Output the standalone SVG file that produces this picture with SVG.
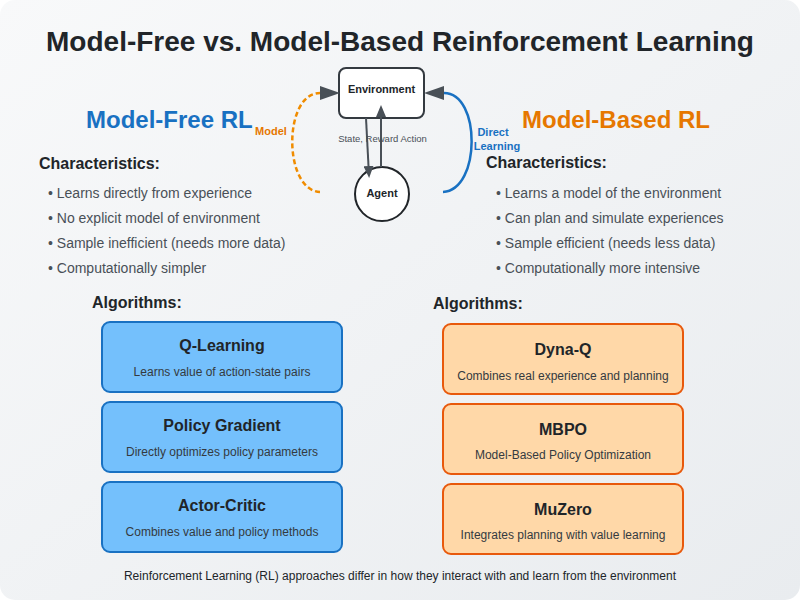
<svg xmlns="http://www.w3.org/2000/svg" width="800" height="600" viewBox="0 0 800 600">
<defs>
<linearGradient id="bg" x1="0" y1="0" x2="1" y2="1">
<stop offset="0" stop-color="#f8f9fa"/>
<stop offset="1" stop-color="#e9ecef"/>
</linearGradient>
<marker id="ahBig" markerUnits="userSpaceOnUse" markerWidth="20" markerHeight="14" refX="0" refY="7" orient="auto">
<polygon points="0,0 20,7 0,14" fill="#495057"/>
</marker>
<marker id="ahSmall" markerUnits="userSpaceOnUse" markerWidth="12" markerHeight="10" refX="0" refY="5" orient="auto">
<polygon points="0,0 12,5 0,10" fill="#495057"/>
</marker>
</defs>
<style>
text{font-family:"Liberation Sans",Arial,sans-serif}
.title{font-size:28px;font-weight:bold;fill:#212529}
.sec{font-size:24px;font-weight:bold}
.h{font-size:16px;font-weight:bold;fill:#212529}
.b{font-size:14px;fill:#495057}
.bt{font-size:16px;font-weight:bold;fill:#212529;text-anchor:middle}
.bs{font-size:12px;fill:#343a40;text-anchor:middle}
.blue{fill:#74c0fc;stroke:#1971c2;stroke-width:2}
.orange{fill:#ffd8a8;stroke:#e8590c;stroke-width:2}
.lbl{font-size:11px;font-weight:bold;text-anchor:middle}
.nt{font-size:11px;font-weight:bold;fill:#212529;text-anchor:middle}
.conn{fill:none;stroke:#495057;stroke-width:2}
</style>
<rect x="0" y="0" width="800" height="600" rx="15" fill="url(#bg)"/>
<text class="title" x="400" y="51" text-anchor="middle">Model-Free vs. Model-Based Reinforcement Learning</text>

<g id="model-free-section">
<text class="sec" x="86" y="128" fill="#1971c2">Model-Free RL</text>
<text class="h" x="39" y="169">Characteristics:</text>
<text class="b" x="48" y="198">• Learns directly from experience</text>
<text class="b" x="48" y="223">• No explicit model of environment</text>
<text class="b" x="48" y="248">• Sample inefficient (needs more data)</text>
<text class="b" x="48" y="273">• Computationally simpler</text>
<text class="h" x="92" y="308">Algorithms:</text>
</g>

<g id="model-based-section">
<text class="sec" x="522" y="128" fill="#e67700">Model-Based RL</text>
<text class="h" x="486" y="168">Characteristics:</text>
<text class="b" x="496" y="198">• Learns a model of the environment</text>
<text class="b" x="496" y="223">• Can plan and simulate experiences</text>
<text class="b" x="496" y="248">• Sample efficient (needs less data)</text>
<text class="b" x="496" y="273">• Computationally more intensive</text>
<text class="h" x="433" y="309">Algorithms:</text>
</g>

<g id="q-learning">
<rect class="blue" x="102" y="322" width="240" height="70" rx="8"/>
<text class="bt" x="222" y="351">Q-Learning</text>
<text class="bs" x="222" y="376">Learns value of action-state pairs</text>
</g>
<g id="policy-gradient">
<rect class="blue" x="102" y="402" width="240" height="70" rx="8"/>
<text class="bt" x="222" y="431">Policy Gradient</text>
<text class="bs" x="222" y="456">Directly optimizes policy parameters</text>
</g>
<g id="actor-critic">
<rect class="blue" x="102" y="482" width="240" height="70" rx="8"/>
<text class="bt" x="222" y="511">Actor-Critic</text>
<text class="bs" x="222" y="536">Combines value and policy methods</text>
</g>

<g id="dyna-q">
<rect class="orange" x="443" y="324" width="240" height="70" rx="8"/>
<text class="bt" x="563" y="355">Dyna-Q</text>
<text class="bs" x="563" y="380">Combines real experience and planning</text>
</g>
<g id="mbpo">
<rect class="orange" x="443" y="404" width="240" height="70" rx="8"/>
<text class="bt" x="563" y="435">MBPO</text>
<text class="bs" x="563" y="459">Model-Based Policy Optimization</text>
</g>
<g id="muzero">
<rect class="orange" x="443" y="484" width="240" height="70" rx="8"/>
<text class="bt" x="563" y="515">MuZero</text>
<text class="bs" x="563" y="539">Integrates planning with value learning</text>
</g>

<g id="environment">
<rect x="339" y="68" width="85" height="50" rx="7" fill="#ffffff" stroke="#343a40" stroke-width="2"/>
<text class="nt" x="381.5" y="93">Environment</text>
</g>
<g id="agent">
<circle cx="382" cy="194" r="27" fill="#ffffff" stroke="#212529" stroke-width="2"/>
<text class="nt" x="382" y="197">Agent</text>
</g>

<g id="connectors">
<path class="conn" d="M366 118 L368.5 166" marker-end="url(#ahSmall)"/>
<path class="conn" d="M381 167 L381 117" marker-end="url(#ahSmall)"/>
<text x="382.5" y="142" font-size="9.5" fill="#495057" text-anchor="middle">State, Reward Action</text>
<path d="M320 192 C283 190 283 93 320 93" fill="none" stroke="#f08c00" stroke-width="2.5" stroke-dasharray="5,3" marker-end="url(#ahBig)"/>
<text class="lbl" x="271" y="135" fill="#e67700">Model</text>
<path d="M443 192 C481 190 481 93 444 93" fill="none" stroke="#1971c2" stroke-width="2.5" marker-end="url(#ahBig)"/>
<text class="lbl" x="493" y="136" fill="#1971c2">Direct</text>
<text class="lbl" x="497" y="150" fill="#1971c2">Learning</text>
</g>

<text x="400" y="580" font-size="12" fill="#212529" text-anchor="middle">Reinforcement Learning (RL) approaches differ in how they interact with and learn from the environment</text>
</svg>
